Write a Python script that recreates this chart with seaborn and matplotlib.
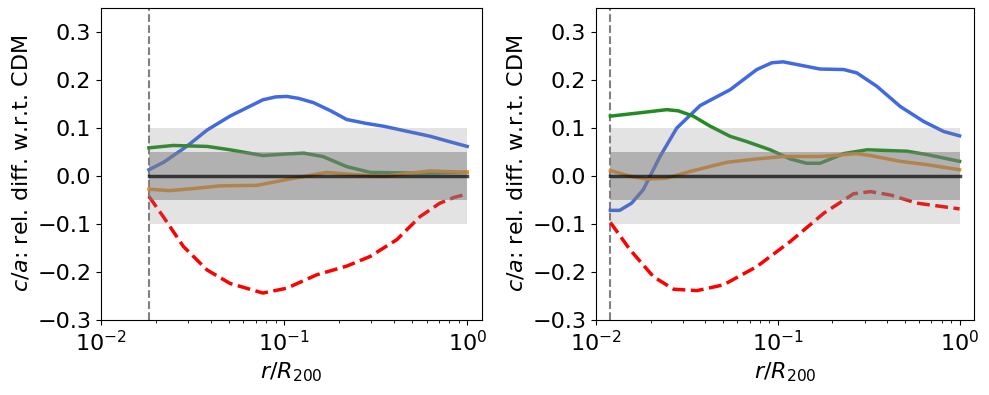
import numpy as np
import pandas as pd
import matplotlib
matplotlib.use('Agg')
import matplotlib.pyplot as plt
import seaborn as sns

# Left panel values
r_start_left = 0.0183
blue_x_l = [0.0183, 0.022, 0.0294, 0.038, 0.0507, 0.0767, 0.09, 0.1035, 0.12, 0.145, 0.18,
            0.22, 0.28, 0.35, 0.45, 0.63, 0.8, 1.0]
blue_y_l = [0.0125, 0.028, 0.061, 0.095, 0.124, 0.158, 0.164, 0.165, 0.161, 0.152, 0.135,
            0.117, 0.109, 0.103, 0.094, 0.082, 0.071, 0.061]
green_x_l = [0.0183, 0.0248, 0.038, 0.0507, 0.0767, 0.1, 0.128, 0.163, 0.22, 0.295, 0.507, 1.0]
green_y_l = [0.058, 0.063, 0.061, 0.054, 0.042, 0.045, 0.047, 0.040, 0.019, 0.007, 0.0056, 0.007]
orange_x_l = [0.0183, 0.0238, 0.0333, 0.0447, 0.071, 0.1035, 0.171, 0.249, 0.35, 0.63, 1.0]
orange_y_l = [-0.028, -0.031, -0.026, -0.021, -0.020, -0.008, 0.007, 0.002, -0.001, 0.010, 0.007]
red_x_l = [0.0183, 0.0219, 0.0282, 0.038, 0.0507, 0.0767, 0.1035, 0.151, 0.22, 0.295, 0.413,
           0.553, 0.71, 0.85, 1.0]
red_y_l = [-0.043, -0.085, -0.147, -0.196, -0.224, -0.244, -0.234, -0.206, -0.188, -0.168, -0.133,
           -0.085, -0.057, -0.045, -0.038]

# Right panel values
r_start_right = 0.0119
blue_x_r = [0.012, 0.0135, 0.0157, 0.0182, 0.0225, 0.0278, 0.0374, 0.0547, 0.0767, 0.0927,
            0.107, 0.171, 0.230, 0.272, 0.351, 0.472, 0.634, 0.818, 1.0]
blue_y_r = [-0.072, -0.072, -0.057, -0.029, 0.040, 0.099, 0.146, 0.179, 0.221, 0.235,
            0.237, 0.222, 0.221, 0.214, 0.186, 0.144, 0.113, 0.092, 0.083]
green_x_r = [0.012, 0.0175, 0.0245, 0.0284, 0.0343, 0.0425, 0.0547, 0.0676, 0.0908, 0.117,
             0.144, 0.171, 0.230, 0.31, 0.514, 0.662, 1.0]
green_y_r = [0.124, 0.131, 0.1375, 0.135, 0.124, 0.103, 0.082, 0.071, 0.054, 0.035,
             0.026, 0.026, 0.046, 0.054, 0.051, 0.044, 0.030]
orange_x_r = [0.012, 0.0154, 0.019, 0.0245, 0.033, 0.0525, 0.0767, 0.107, 0.171, 0.272,
              0.323, 0.472, 0.662, 1.0]
orange_y_r = [0.011, -0.001, -0.007, -0.005, 0.009, 0.028, 0.035, 0.040, 0.040, 0.046,
              0.042, 0.030, 0.023, 0.0125]
red_x_r = [0.012, 0.0154, 0.0207, 0.0267, 0.0359, 0.0503, 0.0767, 0.117, 0.179, 0.261,
           0.323, 0.416, 0.583, 1.0]
red_y_r = [-0.097, -0.154, -0.21, -0.236, -0.239, -0.227, -0.189, -0.137, -0.078, -0.0375,
           -0.033, -0.040, -0.057, -0.069]

yticks = [-0.3, -0.2, -0.1, 0.0, 0.1, 0.2, 0.3]

plt.rcParams.update({'font.size': 16})

fig, axs = plt.subplots(ncols=2, nrows=1, figsize=(9.89, 3.95), dpi=100)
axs[0].set_position([0.102, 0.19, 0.385, 0.791])
axs[1].set_position([0.6026, 0.19, 0.3822, 0.791])


def panel(ax, r0, bx, by, gx, gy, ox, oy, rx, ry):
    sns.lineplot(x=bx, y=by, ax=ax, color='royalblue', lw=2.5, zorder=2)
    sns.lineplot(x=gx, y=gy, ax=ax, color='forestgreen', lw=2.5, zorder=2)
    sns.lineplot(x=ox, y=oy, ax=ax, color='darkorange', lw=2.5, zorder=2)
    sns.lineplot(x=rx, y=ry, ax=ax, color='red', lw=2.5, linestyle='--', zorder=2)
    xs = [r0, 1.0]
    ax.fill_between(xs, -0.1, 0.1, color='gray', alpha=0.22, lw=0, zorder=3)
    ax.fill_between(xs, -0.05, 0.05, color='gray', alpha=0.5, lw=0, zorder=3)
    ax.plot(xs, [0, 0], color='k', alpha=0.7, lw=2.5, zorder=4)
    ax.axvline(r0, color='gray', ls='--', lw=1.5, zorder=1)
    ax.set_xscale('log')
    ax.set_xlim(0.01, 1.2)
    ax.set_ylim(-0.3, 0.35)
    ax.set_yticks(yticks)
    ax.set_xlabel('$r/R_{200}$')
    ax.set_ylabel('$c/a$: rel. diff. w.r.t. CDM')


panel(axs[0], r_start_left, blue_x_l, blue_y_l, green_x_l, green_y_l,
      orange_x_l, orange_y_l, red_x_l, red_y_l)
panel(axs[1], r_start_right, blue_x_r, blue_y_r, green_x_r, green_y_r,
      orange_x_r, orange_y_r, red_x_r, red_y_r)

plt.savefig('out.png', dpi=100)
